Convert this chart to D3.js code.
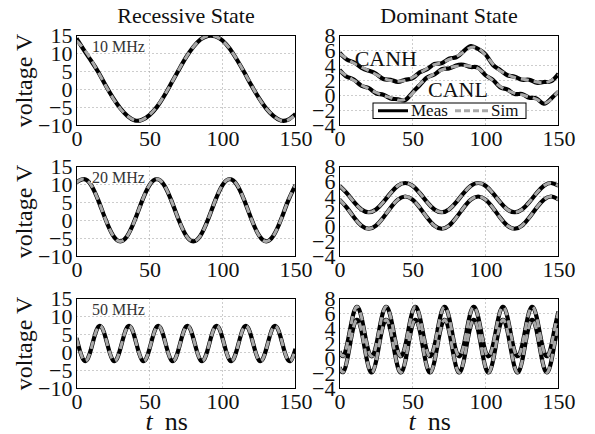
<!DOCTYPE html>
<html><head><meta charset="utf-8">
<script src="https://cdn.jsdelivr.net/npm/d3@7"></script>
<style>html,body{margin:0;padding:0;background:#fff;} svg{display:block;}</style>
</head><body><svg id="chart" width="595" height="434"></svg>
<script>
// ---------- data ----------
const columnTitles = ["Recessive State", "Dominant State"];
const freqLabels = ["10 MHz", "20 MHz", "50 MHz"];
const xTicks = [0, 50, 100, 150];
const recDomain = [-10, 15];
const recTicks = [-10, -5, 0, 5, 10, 15];
const domDomain = [-4, 8];
const domTicks = [-4, -2, 0, 2, 4, 6, 8];
const legendLabels = ["Meas", "Sim"];
const busLabels = ["CANH", "CANL"];

const time5 = [0,5,10,15,20,25,30,35,40,45,50,55,60,65,70,75,80,85,90,95,100,105,110,115,120,125,130,135,140,145,150];
const time2p5 = [0,2.5,5,7.5,10,12.5,15,17.5,20,22.5,25,27.5,30,32.5,35,37.5,40,42.5,45,47.5,50,52.5,55,57.5,60,62.5,65,67.5,70,72.5,75,77.5,80,82.5,85,87.5,90,92.5,95,97.5,100,102.5,105,107.5,110,112.5,115,117.5,120,122.5,125,127.5,130,132.5,135,137.5,140,142.5,145,147.5,150];

// Recessive, 10 MHz
const rec10Meas = [14.2,11.0,8.0,4.8,1.1,-2.3,-5.2,-7.4,-8.6,-8.4,-7.1,-4.9,-1.8,1.8,5.4,8.9,11.8,13.9,14.9,14.8,13.6,11.3,8.2,4.7,1.0,-2.4,-5.3,-7.4,-8.6,-8.4,-6.8];
const rec10Sim  = [13.5,11.3,8.25,4.72,1.05,-2.41,-5.31,-7.38,-8.6,-8.45,-7.04,-4.8,-1.76,1.78,5.45,8.91,11.81,13.88,14.9,14.79,13.54,11.3,8.25,4.72,1.05,-2.41,-5.31,-7.38,-8.6,-8.45,-7.04];
// Recessive, 20 MHz
const rec20Meas = [10.6,11.5,9.85,5.52,0.18,-4.15,-5.8,-4.15,0.18,5.52,9.85,11.5,9.85,5.52,0.18,-4.15,-5.8,-4.15,0.18,5.52,9.85,11.5,9.85,5.52,0.18,-4.15,-5.8,-4.15,0.18,5.52,9.85];
const rec20Sim  = [10.6,11.5,9.85,5.52,0.18,-4.15,-5.8,-4.15,0.18,5.52,9.85,11.5,9.85,5.52,0.18,-4.15,-5.8,-4.15,0.18,5.52,9.85,11.5,9.85,5.52,0.18,-4.15,-5.8,-4.15,0.18,5.52,9.85];
// Recessive, 50 MHz
const rec50Meas = [4.01,0.28,-2.16,-1.87,0.99,4.72,7.16,6.87, 4.01,0.28,-2.16,-1.87,0.99,4.72,7.16,6.87, 4.01,0.28,-2.16,-1.87,0.99,4.72,7.16,6.87, 4.01,0.28,-2.16,-1.87,0.99,4.72,7.16,6.87, 4.01,0.28,-2.16,-1.87,0.99,4.72,7.16,6.87, 4.01,0.28,-2.16,-1.87,0.99,4.72,7.16,6.87, 4.01,0.28,-2.16,-1.87,0.99,4.72,7.16,6.87, 4.01,0.28,-2.16,-1.87,0.99];
const rec50Sim  = [4.01,0.28,-2.16,-1.87,0.99,4.72,7.16,6.87, 4.01,0.28,-2.16,-1.87,0.99,4.72,7.16,6.87, 4.01,0.28,-2.16,-1.87,0.99,4.72,7.16,6.87, 4.01,0.28,-2.16,-1.87,0.99,4.72,7.16,6.87, 4.01,0.28,-2.16,-1.87,0.99,4.72,7.16,6.87, 4.01,0.28,-2.16,-1.87,0.99,4.72,7.16,6.87, 4.01,0.28,-2.16,-1.87,0.99,4.72,7.16,6.87, 4.01,0.28,-2.16,-1.87,0.99];

// Dominant, 10 MHz
const dom10HMeas = [5.7,4.8,4.4,3.7,3.3,2.9,2.2,2.1,1.8,2.1,2.3,3.1,3.5,4.2,4.3,4.9,5.1,5.9,6.6,6.2,5.5,4.1,3.4,2.7,2.5,2.1,2.1,1.7,1.8,1.9,2.9];
const dom10HSim  = [5.6,4.9,4.3,3.8,3.3,2.8,2.3,2.0,1.9,2.0,2.4,3.0,3.6,4.1,4.4,4.8,5.2,5.8,6.4,6.3,5.4,4.2,3.3,2.8,2.4,2.2,2.0,1.8,1.7,2.0,2.7];
const dom10LMeas = [3.4,2.5,2.1,1.3,1.0,0.3,0.1,-0.4,-0.5,-0.6,0.4,1.4,2.4,2.8,3.5,3.6,4.0,4.1,3.8,3.7,2.7,2.1,1.1,0.8,0.2,0.2,-0.3,-0.4,-1.1,-0.4,0.5];
const dom10LSim  = [3.3,2.6,2.0,1.4,0.9,0.4,0.0,-0.3,-0.6,-0.5,0.3,1.5,2.3,2.9,3.4,3.7,3.9,4.0,3.9,3.6,2.8,2.0,1.2,0.7,0.3,0.1,-0.2,-0.5,-1.0,-0.5,0.6];
// Dominant, 20 MHz
const dom20HMeas = [5.43,4.45,3.25,2.27,1.9,2.27,3.25,4.45,5.43,5.8,5.43,4.45,3.25,2.27,1.9,2.27,3.25,4.45,5.43,5.8,5.43,4.45,3.25,2.27,1.9,2.27,3.25,4.45,5.43,5.8,5.43];
const dom20HSim  = [5.43,4.45,3.25,2.27,1.9,2.27,3.25,4.45,5.43,5.8,5.43,4.45,3.25,2.27,1.9,2.27,3.25,4.45,5.43,5.8,5.43,4.45,3.25,2.27,1.9,2.27,3.25,4.45,5.43,5.8,5.43];
const dom20LMeas = [3.59,2.51,1.19,0.11,-0.3,0.11,1.19,2.51,3.59,4.0,3.59,2.51,1.19,0.11,-0.3,0.11,1.19,2.51,3.59,4.0,3.59,2.51,1.19,0.11,-0.3,0.11,1.19,2.51,3.59,4.0,3.59];
const dom20LSim  = [3.59,2.51,1.19,0.11,-0.3,0.11,1.19,2.51,3.59,4.0,3.59,2.51,1.19,0.11,-0.3,0.11,1.19,2.51,3.59,4.0,3.59,2.51,1.19,0.11,-0.3,0.11,1.19,2.51,3.59,4.0,3.59];
// Dominant, 50 MHz
const dom50HMeas = [0.93,0.34,1.66,4.11,6.27,6.86,5.54,3.09, 0.93,0.34,1.66,4.11,6.27,6.86,5.54,3.09, 0.93,0.34,1.66,4.11,6.27,6.86,5.54,3.09, 0.93,0.34,1.66,4.11,6.27,6.86,5.54,3.09, 0.93,0.34,1.66,4.11,6.27,6.86,5.54,3.09, 0.93,0.34,1.66,4.11,6.27,6.86,5.54,3.09, 0.93,0.34,1.66,4.11,6.27,6.86,5.54,3.09, 0.93,0.34,1.66,4.11,6.27];
const dom50HSim  = [0.93,0.34,1.66,4.11,6.27,6.86,5.54,3.09, 0.93,0.34,1.66,4.11,6.27,6.86,5.54,3.09, 0.93,0.34,1.66,4.11,6.27,6.86,5.54,3.09, 0.93,0.34,1.66,4.11,6.27,6.86,5.54,3.09, 0.93,0.34,1.66,4.11,6.27,6.86,5.54,3.09, 0.93,0.34,1.66,4.11,6.27,6.86,5.54,3.09, 0.93,0.34,1.66,4.11,6.27,6.86,5.54,3.09, 0.93,0.34,1.66,4.11,6.27];
const dom50LMeas = [-1.18,-1.81,-0.41,2.20,4.48,5.11,3.71,1.10, -1.18,-1.81,-0.41,2.20,4.48,5.11,3.71,1.10, -1.18,-1.81,-0.41,2.20,4.48,5.11,3.71,1.10, -1.18,-1.81,-0.41,2.20,4.48,5.11,3.71,1.10, -1.18,-1.81,-0.41,2.20,4.48,5.11,3.71,1.10, -1.18,-1.81,-0.41,2.20,4.48,5.11,3.71,1.10, -1.18,-1.81,-0.41,2.20,4.48,5.11,3.71,1.10, -1.18,-1.81,-0.41,2.20,4.48];
const dom50LSim  = [-1.18,-1.81,-0.41,2.20,4.48,5.11,3.71,1.10, -1.18,-1.81,-0.41,2.20,4.48,5.11,3.71,1.10, -1.18,-1.81,-0.41,2.20,4.48,5.11,3.71,1.10, -1.18,-1.81,-0.41,2.20,4.48,5.11,3.71,1.10, -1.18,-1.81,-0.41,2.20,4.48,5.11,3.71,1.10, -1.18,-1.81,-0.41,2.20,4.48,5.11,3.71,1.10, -1.18,-1.81,-0.41,2.20,4.48,5.11,3.71,1.10, -1.18,-1.81,-0.41,2.20,4.48];

// label anchor points (data coordinates) in the top-right panel
const busLabelPos = [[10.4, 4.0], [60.6, -0.2]];

// ---------- layout ----------
const FONT = '"Liberation Serif","DejaVu Serif",serif';
const cols = [{x0: 76.5, x1: 295.5}, {x0: 339.5, x1: 558.5}];
const rows = [{y0: 35.5, y1: 125.5}, {y0: 166.5, y1: 256.5}, {y0: 298.5, y1: 388.5}];
const MEAS_COLOR = "#000", SIM_COLOR = "#a8a8a8", GRID_COLOR = "#9a9a9a";

const panels = [
  {col:0,row:0,dom:recDomain,ticks:recTicks,label:freqLabels[0],series:[{t:time5,m:rec10Meas,s:rec10Sim}]},
  {col:0,row:1,dom:recDomain,ticks:recTicks,label:freqLabels[1],series:[{t:time5,m:rec20Meas,s:rec20Sim}]},
  {col:0,row:2,dom:recDomain,ticks:recTicks,label:freqLabels[2],series:[{t:time2p5,m:rec50Meas,s:rec50Sim}]},
  {col:1,row:0,dom:domDomain,ticks:domTicks,series:[{t:time5,m:dom10HMeas,s:dom10HSim},{t:time5,m:dom10LMeas,s:dom10LSim}],bus:true,legend:true},
  {col:1,row:1,dom:domDomain,ticks:domTicks,series:[{t:time5,m:dom20HMeas,s:dom20HSim},{t:time5,m:dom20LMeas,s:dom20LSim}]},
  {col:1,row:2,dom:domDomain,ticks:domTicks,series:[{t:time2p5,m:dom50HMeas,s:dom50HSim},{t:time2p5,m:dom50LMeas,s:dom50LSim}]},
];

const svg = d3.select("#chart").attr("font-family", FONT);
const fmt = v => (v < 0 ? "\u2212" + Math.abs(v) : String(v));

panels.forEach((p, i) => {
  const c = cols[p.col], r = rows[p.row];
  const x = d3.scaleLinear().domain([0, 150]).range([c.x0, c.x1]);
  const y = d3.scaleLinear().domain(p.dom).range([r.y1, r.y0]);
  const g = svg.append("g");

  const clipId = "clip" + i;
  svg.append("clipPath").attr("id", clipId).append("rect")
    .attr("x", c.x0).attr("y", r.y0).attr("width", c.x1 - c.x0).attr("height", r.y1 - r.y0);

  // grid
  g.append("g").selectAll("line").data(xTicks.slice(1, -1)).join("line")
    .attr("x1", d => x(d)).attr("x2", d => x(d)).attr("y1", r.y0).attr("y2", r.y1)
    .attr("stroke", GRID_COLOR).attr("stroke-width", 1).attr("stroke-dasharray", "1,3");
  g.append("g").selectAll("line").data(p.ticks.slice(1, -1)).join("line")
    .attr("x1", c.x0).attr("x2", c.x1).attr("y1", d => y(d)).attr("y2", d => y(d))
    .attr("stroke", GRID_COLOR).attr("stroke-width", 1).attr("stroke-dasharray", "1,3");

  const lineGen = (ts) => d3.line().x((d, k) => x(ts[k])).y(d => y(d)).curve(d3.curveNatural);
  const lg = g.append("g").attr("clip-path", `url(#${clipId})`);
  p.series.forEach(s => {
    lg.append("path").attr("d", lineGen(s.t)(s.m)).attr("fill", "none")
      .attr("stroke", MEAS_COLOR).attr("stroke-width", 4.2).attr("stroke-linejoin", "round");
  });
  p.series.forEach(s => {
    lg.append("path").attr("d", lineGen(s.t)(s.s)).attr("fill", "none")
      .attr("stroke", SIM_COLOR).attr("stroke-width", 3).attr("stroke-dasharray", "8,5");
  });

  // frame
  g.append("rect").attr("x", c.x0).attr("y", r.y0).attr("width", c.x1 - c.x0).attr("height", r.y1 - r.y0)
    .attr("fill", "none").attr("stroke", "#000").attr("stroke-width", 1);

  // axes
  const ya = g.append("g").attr("transform", `translate(${c.x0},0)`)
    .call(d3.axisLeft(y).tickValues(p.ticks).tickSize(0).tickPadding(4).tickFormat(fmt));
  const xa = g.append("g").attr("transform", `translate(0,${r.y1})`)
    .call(d3.axisBottom(x).tickValues(xTicks).tickSize(0).tickPadding(5).tickFormat(fmt));
  [ya, xa].forEach(a => {
    a.select(".domain").remove();
    a.attr("font-family", FONT).attr("font-size", 22);
    a.selectAll("text").attr("fill", "#111");
  });

  // frequency label
  if (p.label) {
    const lab = g.append("g");
    const t = lab.append("text").attr("x", c.x0 + 15.5).attr("y", r.y0 + 16.5)
      .attr("font-size", 16).attr("fill", "#333").text(p.label);
    const bb = t.node().getBBox();
    lab.insert("rect", "text").attr("x", bb.x - 1).attr("y", bb.y + 2).attr("width", bb.width + 2)
      .attr("height", bb.height - 5).attr("fill", "#fff");
  }

  // CANH / CANL labels
  if (p.bus) {
    busLabels.forEach((b, k) => {
      g.append("text").attr("x", x(busLabelPos[k][0])).attr("y", y(busLabelPos[k][1]))
        .attr("font-size", 22).attr("fill", "#111").text(b);
    });
  }

  // legend
  if (p.legend) {
    const lgd = g.append("g");
    const bx = 373, by = 103, bw = 153, bh = 15.5;
    lgd.append("rect").attr("x", bx).attr("y", by).attr("width", bw).attr("height", bh)
      .attr("fill", "#fff").attr("stroke", "#000").attr("stroke-width", 1);
    lgd.append("line").attr("x1", bx + 5).attr("x2", bx + 35).attr("y1", by + bh / 2).attr("y2", by + bh / 2)
      .attr("stroke", MEAS_COLOR).attr("stroke-width", 3);
    lgd.append("text").attr("x", bx + 38).attr("y", by + 13).attr("font-size", 17).attr("fill", "#111").text(legendLabels[0]);
    lgd.append("line").attr("x1", bx + 82).attr("x2", bx + 116).attr("y1", by + bh / 2).attr("y2", by + bh / 2)
      .attr("stroke", SIM_COLOR).attr("stroke-width", 3).attr("stroke-dasharray", "6,3");
    lgd.append("text").attr("x", bx + 118).attr("y", by + 13).attr("font-size", 17).attr("fill", "#111").text(legendLabels[1]);
  }
});

// column titles
columnTitles.forEach((t, k) => {
  svg.append("text").attr("x", (cols[k].x0 + cols[k].x1) / 2).attr("y", 23)
    .attr("text-anchor", "middle").attr("font-size", 22).attr("fill", "#111").text(t);
});

// y labels
rows.forEach(r => {
  svg.append("text").attr("transform", `translate(32,${(r.y0 + r.y1) / 2}) rotate(-90)`)
    .attr("text-anchor", "middle").attr("font-size", 24).attr("fill", "#111").text("voltage V");
});

// x labels
cols.forEach(c => {
  const t = svg.append("text").attr("x", c.x0 + 69).attr("y", 429.5)
    .attr("text-anchor", "start").attr("font-size", 26).attr("fill", "#111");
  t.append("tspan").attr("font-style", "italic").text("t");
  t.append("tspan").attr("dx", 12).text("ns");
});
</script></body></html>
